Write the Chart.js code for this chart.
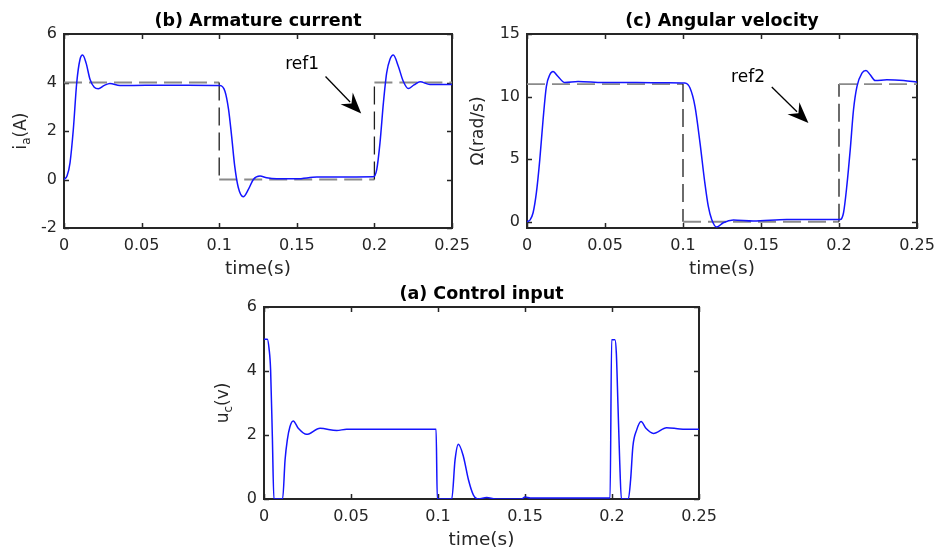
<!DOCTYPE html>
<html>
<head>
<meta charset="utf-8">
<script src="https://cdn.jsdelivr.net/npm/chart.js@4/dist/chart.umd.min.js"></script>
<style>
html,body{margin:0;padding:0;background:#fff;}
body{width:937px;height:552px;position:relative;overflow:hidden;}
canvas{position:absolute;}
</style>
</head>
<body>
<canvas id="cb" width="470" height="280" style="left:0;top:0"></canvas>
<canvas id="cc" width="474" height="280" style="left:463px;top:0"></canvas>
<canvas id="ca" width="540" height="272" style="left:200px;top:280px"></canvas>
<script>
// ---------- data ----------
const xTicks = [0, 0.05, 0.1, 0.15, 0.2, 0.25];

// (b) armature current
const tIa = [0,0.002,0.0039,0.006,0.0082,0.0103,0.012,0.0142,0.0168,0.0195,0.0221,0.026,0.0296,0.036,0.045,0.06,0.08,0.1005,0.1037,0.106,0.108,0.110,0.1123,0.1155,0.1188,0.122,0.1263,0.1306,0.137,0.15,0.163,0.173,0.1993,0.2015,0.2036,0.2058,0.2079,0.21,0.2122,0.2154,0.2186,0.2218,0.2255,0.2294,0.2358,0.2487,0.25];
const ia  = [0,0.15,0.7,2.06,3.99,4.95,5.13,4.81,4.12,3.8,3.74,3.88,3.96,3.88,3.88,3.89,3.89,3.88,3.64,2.9,1.79,0.55,-0.33,-0.71,-0.41,0,0.14,0.07,0.03,0.03,0.1,0.1,0.11,0.41,1.51,3.16,4.4,4.95,5.13,4.67,4.05,3.75,3.9,4.03,3.92,3.92,3.92];
const tRef1 = [0,0.1,0.1,0.2,0.2,0.25];
const ref1  = [4,4,0,0,4,4];
const yTicksIa = [-2,0,2,4,6];

// (c) angular velocity
const tOm = [0,0.002,0.0039,0.006,0.0082,0.0103,0.0124,0.0146,0.0167,0.0199,0.0242,0.0327,0.0488,0.07,0.09,0.1012,0.1045,0.1077,0.1109,0.114,0.1162,0.1184,0.1216,0.1258,0.1323,0.145,0.1665,0.177,0.2008,0.2029,0.205,0.2072,0.2093,0.2115,0.2147,0.2173,0.22,0.2232,0.2307,0.2414,0.25];
const om  = [0,0.15,0.72,2.3,4.96,8.15,10.8,11.74,12.0,11.6,11.12,11.2,11.12,11.12,11.1,11.08,10.68,9.2,6.3,3.1,1.24,0.18,-0.43,-0.08,0.13,0.05,0.18,0.18,0.18,0.72,2.84,5.76,8.95,10.8,11.87,12.08,11.74,11.28,11.34,11.28,11.15];
const tRef2 = [0,0.1,0.1,0.2,0.2,0.25];
const ref2  = [11,11,0,0,11,11];
const yTicksOm = [0,5,10,15];

// (a) control input
const tUc = [0,0.0019,0.0029,0.0038,0.0048,0.0057,0.0107,0.0121,0.0134,0.0149,0.0168,0.0197,0.0245,0.0322,0.0418,0.0475,0.0989,0.0996,0.1079,0.1098,0.1117,0.1146,0.1175,0.1203,0.1232,0.128,0.133,0.148,0.15,0.153,0.1989,0.1998,0.2017,0.2025,0.2034,0.2044,0.2054,0.2094,0.2107,0.212,0.2142,0.2167,0.2195,0.2238,0.2314,0.239,0.2486,0.25];
const uc  = [4.99,4.99,4.7,4.03,1.95,0,0,1.22,1.85,2.26,2.44,2.21,2.02,2.21,2.14,2.18,2.18,0,0,1.22,1.71,1.33,0.6,0.13,0,0.05,0,0,0.06,0.03,0.03,4.98,4.98,4.55,2.99,1.22,0,0,0.6,1.64,2.16,2.42,2.21,2.05,2.23,2.19,2.18,2.18];
const yTicksUc = [0,2,4,6];

// annotations (data coordinates)
const ann1 = {text:'ref1', tx:0.1534, ty:4.72, x1:0.1685, y1:4.25, x2:0.1915, y2:2.72};
const ann2 = {text:'ref2', tx:0.1417, ty:11.5, x1:0.1569, y1:10.76, x2:0.1804, y2:7.89};

// ---------- helpers ----------
const FONT = "'DejaVu Sans', sans-serif";
const toXY = (t, v) => t.map((x, i) => ({x, y: v[i]}));

const matlabPlugin = {
  id: 'matlab',
  beforeDatasetsDraw(chart) {
    const {ctx, chartArea: a, scales} = chart;
    ctx.save();
    ctx.strokeStyle = '#262626';
    ctx.lineWidth = 1.5;
    const tl = 5;
    ctx.beginPath();
    scales.x.ticks.forEach(t => {
      const px = Math.round(scales.x.getPixelForValue(t.value)) + 0.5;
      ctx.moveTo(px, a.bottom); ctx.lineTo(px, a.bottom - tl);
      ctx.moveTo(px, a.top); ctx.lineTo(px, a.top + tl);
    });
    scales.y.ticks.forEach(t => {
      const py = Math.round(scales.y.getPixelForValue(t.value)) + 0.5;
      ctx.moveTo(a.left, py); ctx.lineTo(a.left + tl, py);
      ctx.moveTo(a.right, py); ctx.lineTo(a.right - tl, py);
    });
    ctx.stroke();
    ctx.lineWidth = 2;
    ctx.strokeRect(a.left, a.top, a.right - a.left, a.bottom - a.top);
    ctx.restore();
  },
  afterDraw(chart, args, o) {
    const {ctx, chartArea: a, scales} = chart;
    ctx.save();
    ctx.fillStyle = '#000';
    // title
    ctx.font = "bold 17.5px " + FONT;
    ctx.textAlign = 'center';
    ctx.textBaseline = 'middle';
    ctx.fillText(o.title, (a.left + a.right) / 2, a.top - 13);
    // x label
    ctx.fillStyle = '#262626';
    ctx.font = "18.5px " + FONT;
    ctx.fillText(o.xlabel, (a.left + a.right) / 2, a.bottom + 41);
    // y label with subscript (rotated)
    const parts = o.ylabel;
    const mainF = "17px " + FONT, subF = "12px " + FONT;
    let total = 0;
    parts.forEach(p => { ctx.font = p.sub ? subF : mainF; p.w = ctx.measureText(p.t).width; total += p.w; });
    ctx.translate(a.left - o.yOff, (a.top + a.bottom) / 2);
    ctx.rotate(-Math.PI / 2);
    ctx.textAlign = 'left';
    ctx.textBaseline = 'alphabetic';
    let x = -total / 2;
    parts.forEach(p => {
      ctx.font = p.sub ? subF : mainF;
      ctx.fillText(p.t, x, p.sub ? 10 : 6);
      x += p.w;
    });
    ctx.setTransform(1, 0, 0, 1, 0, 0);
    // annotation arrow
    if (o.ann) {
      const an = o.ann;
      const sx = scales.x, sy = scales.y;
      ctx.fillStyle = '#000';
      ctx.font = "17px " + FONT;
      ctx.textAlign = 'center';
      ctx.textBaseline = 'middle';
      ctx.fillText(an.text, sx.getPixelForValue(an.tx), sy.getPixelForValue(an.ty));
      const x1 = sx.getPixelForValue(an.x1), y1 = sy.getPixelForValue(an.y1);
      const x2 = sx.getPixelForValue(an.x2), y2 = sy.getPixelForValue(an.y2);
      const ang = Math.atan2(y2 - y1, x2 - x1);
      const L = 21, W = 8.5;
      const bx = x2 - L * Math.cos(ang), by = y2 - L * Math.sin(ang);
      ctx.strokeStyle = '#000';
      ctx.lineWidth = 1.3;
      ctx.beginPath(); ctx.moveTo(x1, y1); ctx.lineTo(bx + 5 * Math.cos(ang), by + 5 * Math.sin(ang)); ctx.stroke();
      const nx = -Math.sin(ang), ny = Math.cos(ang);
      ctx.beginPath();
      ctx.moveTo(x2, y2);
      ctx.lineTo(bx + nx * W, by + ny * W);
      ctx.lineTo(bx + 7 * Math.cos(ang), by + 7 * Math.sin(ang));
      ctx.lineTo(bx - nx * W, by - ny * W);
      ctx.closePath();
      ctx.fill();
    }
    ctx.restore();
  }
};

function scalesFor(yMin, yMax, yTicks, yW, xH) {
  const tickFont = {family: FONT, size: 16};
  return {
    x: {
      type: 'linear', min: 0, max: 0.25,
      afterBuildTicks: s => { s.ticks = xTicks.map(v => ({value: v})); },
      ticks: {font: tickFont, color: '#262626', padding: 8, maxRotation: 0, autoSkip: false, callback: v => String(v)},
      grid: {display: false, drawTicks: false},
      border: {display: false},
      afterFit: s => { s.height = xH; s.paddingLeft = 0; s.paddingRight = 0; }
    },
    y: {
      type: 'linear', min: yMin, max: yMax,
      afterBuildTicks: s => { s.ticks = yTicks.map(v => ({value: v})); },
      ticks: {font: tickFont, color: '#262626', padding: 7, autoSkip: false, callback: v => String(v)},
      grid: {display: false, drawTicks: false},
      border: {display: false},
      afterFit: s => { s.width = yW; s.paddingTop = 0; s.paddingBottom = 0; }
    }
  };
}

const refSegment = {
  borderColor: c => c.p0.parsed.x === c.p1.parsed.x ? '#1e1e1e' : '#8a8a8a',
  borderWidth: c => c.p0.parsed.x === c.p1.parsed.x ? 1.3 : 1.8
};

function blueDs(t, v) {
  return {data: toXY(t, v), borderColor: '#1414ff', borderWidth: 1.5, pointRadius: 0, cubicInterpolationMode: 'monotone', fill: false};
}
function refDs(t, v) {
  return {data: toXY(t, v), borderColor: '#8a8a8a', borderWidth: 1.8, borderDash: [18, 7], pointRadius: 0, tension: 0, fill: false, segment: refSegment};
}

function makeChart(id, datasets, scales, padding, custom) {
  return new Chart(document.getElementById(id), {
    type: 'line',
    data: {datasets},
    options: {
      responsive: false, animation: false, events: [],
      layout: {padding},
      scales,
      plugins: {legend: {display: false}, tooltip: {enabled: false}, title: {display: false}, matlab: custom}
    },
    plugins: [matlabPlugin]
  });
}

makeChart('cb', [blueDs(tIa, ia), refDs(tRef1, ref1)],
  scalesFor(-2, 6, yTicksIa, 64, 52), {top: 34, right: 18, left: 0, bottom: 0},
  {title: '(b) Armature current', xlabel: 'time(s)', yOff: 44,
   ylabel: [{t: 'i'}, {t: 'a', sub: true}, {t: '(A)'}], ann: ann1});

makeChart('cc', [blueDs(tOm, om), refDs(tRef2, ref2)],
  scalesFor(-0.5, 15, yTicksOm, 64, 52), {top: 34, right: 20, left: 0, bottom: 0},
  {title: '(c) Angular velocity', xlabel: 'time(s)', yOff: 50,
   ylabel: [{t: 'Ω(rad/s)'}], ann: ann2});

makeChart('ca', [blueDs(tUc, uc)],
  scalesFor(0, 6, yTicksUc, 64, 53), {top: 27, right: 41, left: 0, bottom: 0},
  {title: '(a) Control input', xlabel: 'time(s)', yOff: 42,
   ylabel: [{t: 'u'}, {t: 'c', sub: true}, {t: '(v)'}]});
</script>
</body>
</html>
